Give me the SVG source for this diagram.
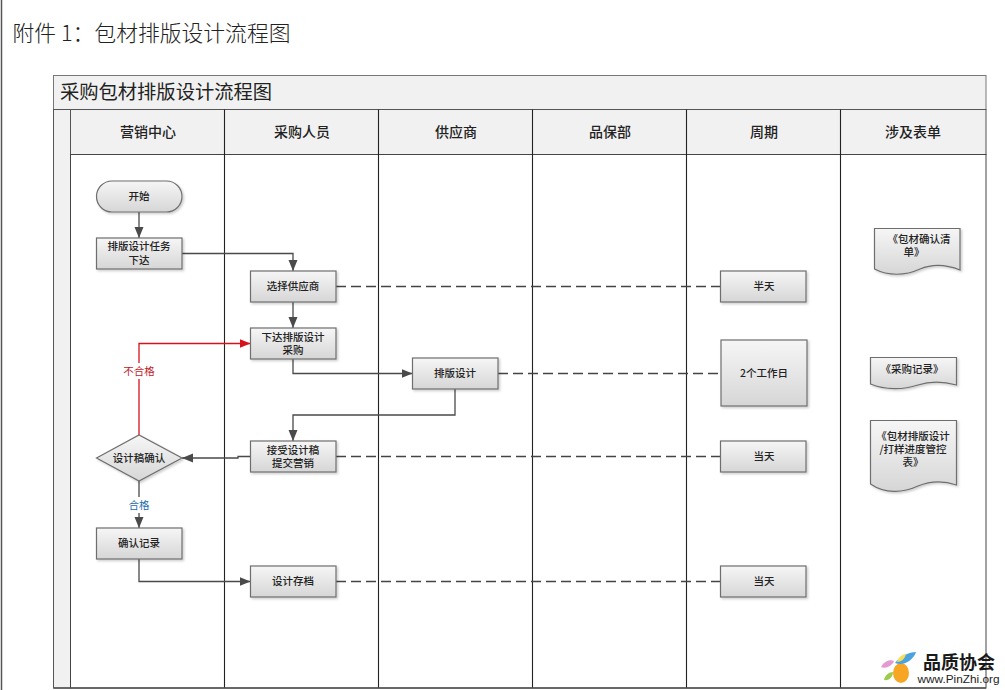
<svg xmlns="http://www.w3.org/2000/svg" width="1005" height="690" viewBox="0 0 1005 690">
<style>
text{font-family:"Noto Sans CJK SC","Liberation Serif",serif;text-anchor:middle;fill:#222}
.n{font-size:10.5px;font-weight:500}
.h{font-size:14px;font-weight:500}
.s{fill:url(#g);stroke:#6e6e6e;stroke-width:1.2;filter:url(#sh)}
.c{fill:none;stroke:#4a4a4a;stroke-width:1.3}
.d{fill:none;stroke:#444;stroke-width:1.3;stroke-dasharray:10 5}
.b{fill:#f1f1f1;stroke:#555;stroke-width:1}
.l{fill:none;stroke:#222;stroke-width:1.1}
</style>
<defs>
<linearGradient id="g" x1="0" y1="0" x2="0" y2="1"><stop offset="0" stop-color="#f6f6f6"/><stop offset="1" stop-color="#d6d6d6"/></linearGradient>
<filter id="sh" x="-10%" y="-10%" width="125%" height="130%"><feDropShadow dx="1.5" dy="1.5" stdDeviation="1" flood-color="#000" flood-opacity=".2"/></filter>
<marker id="a" markerWidth="12" markerHeight="10" refX="11" refY="4.5" orient="auto" markerUnits="userSpaceOnUse"><path d="M0 0L11 4.5L0 9Z" fill="#4a4a4a"/></marker>
<marker id="r" markerWidth="12" markerHeight="10" refX="11" refY="4.5" orient="auto" markerUnits="userSpaceOnUse"><path d="M0 0L11 4.5L0 9Z" fill="#d8121c"/></marker>
</defs>
<rect width="1005" height="690" fill="#fff"/>
<path d="M1.500 0V690" stroke="#555" stroke-width="1.500"/>
<text x="151.500" y="41" style="font-size:21.800px;font-weight:300;fill:#222">附件 1：包材排版设计流程图</text>

<g id="lanes">
<rect class="b" x="53.500" y="75.500" width="932.500" height="34" style="stroke:#777"/>
<rect class="b" x="53.500" y="109.500" width="17" height="578.500"/>
<rect class="b" x="70.500" y="109.500" width="915.500" height="45"/>
<rect x="70.500" y="154.500" width="915.500" height="533.500" fill="#fff" stroke="#444"/>
<path class="l" d="M224.500 109.500V688M378.500 109.500V688M532.500 109.500V688M686.500 109.500V688M840.500 109.500V688"/>
<path d="M53.500 688H986" stroke="#555" stroke-width="1.400"/>
<text x="166" y="99" style="font-size:19.300px;font-weight:400;fill:#222">采购包材排版设计流程图</text>
<text class="h" x="148" y="137">营销中心</text>
<text class="h" x="302" y="137">采购人员</text>
<text class="h" x="456" y="137">供应商</text>
<text class="h" x="610" y="137">品保部</text>
<text class="h" x="764" y="137">周期</text>
<text class="h" x="913" y="137">涉及表单</text>
</g>

<g id="connectors">
<path class="c" marker-end="url(#a)" d="M139 212V238"/>
<path class="c" marker-end="url(#a)" d="M182 253.500H293V271"/>
<path class="c" marker-end="url(#a)" d="M293 302V328"/>
<path class="c" marker-end="url(#a)" d="M293 359V373.500H412.500"/>
<path class="c" marker-end="url(#a)" d="M455 389V415H293V441"/>
<path class="c" marker-end="url(#a)" d="M250.500 456.500H238V458H182"/>
<path class="c" marker-end="url(#a)" d="M139 481V528"/>
<path class="c" marker-end="url(#a)" d="M139 559V581.500H250.500"/>
<path fill="none" stroke="#d8121c" stroke-width="1.300" marker-end="url(#r)" d="M139 435V343.500H250.500"/>
<path class="d" d="M336 286.500H720.500M336 456.500H720.500M336 581.500H720.500M498 373.500H721"/>
<rect x="122" y="363" width="35" height="16" fill="#fff"/>
<text x="139" y="375" style="font-size:10.500px;fill:#c0181f">不合格</text>
<rect x="126" y="497" width="26" height="16" fill="#fff"/>
<text x="139" y="509" style="font-size:10.500px;fill:#1a6ca8">合格</text>
</g>

<g id="start"><rect class="s" x="96.500" y="181" width="85.500" height="31" rx="15.500"/><text class="n" x="139" y="200">开始</text></g>
<g id="task"><rect class="s" x="96.500" y="238" width="85.500" height="31"/><text class="n" x="139" y="250">排版设计任务</text><text class="n" x="139" y="264">下达</text></g>
<g id="select-supplier"><rect class="s" x="250.500" y="271" width="85.500" height="31"/><text class="n" x="293" y="290">选择供应商</text></g>
<g id="issue"><rect class="s" x="250.500" y="328" width="85.500" height="31"/><text class="n" x="293" y="341">下达排版设计</text><text class="n" x="293" y="354">采购</text></g>
<g id="design"><rect class="s" x="412.500" y="358" width="85.500" height="31"/><text class="n" x="455" y="377">排版设计</text></g>
<g id="receive"><rect class="s" x="250.500" y="441" width="85.500" height="31"/><text class="n" x="293" y="454">接受设计稿</text><text class="n" x="293" y="467">提交营销</text></g>
<g id="archive"><rect class="s" x="250.500" y="566" width="85.500" height="31"/><text class="n" x="293" y="585">设计存档</text></g>
<g id="decision"><path class="s" d="M96.500 458L139 435L182 458L139 481Z"/><text class="n" x="139" y="462">设计稿确认</text></g>
<g id="record"><rect class="s" x="96.500" y="528" width="85.500" height="31"/><text class="n" x="139" y="547">确认记录</text></g>

<g id="t1"><rect class="s" x="720.500" y="271" width="85.500" height="31"/><text class="n" x="764" y="290">半天</text></g>
<g id="t2"><rect class="s" x="721" y="340" width="86" height="66"/><text class="n" x="764" y="377">2个工作日</text></g>
<g id="t3"><rect class="s" x="720.500" y="441" width="85.500" height="31"/><text class="n" x="764" y="460">当天</text></g>
<g id="t4"><rect class="s" x="720.500" y="566" width="85.500" height="31"/><text class="n" x="764" y="585">当天</text></g>

<g id="doc1"><path class="s" d="M874.500 228.500H960V270C945 264 932 264 920 269C905 276 888 276 874.500 269Z"/><text class="n" x="919" y="243">《包材确认清</text><text class="n" x="914" y="256">单》</text></g>
<g id="doc2"><path class="s" d="M870.500 357.500H956.500V385C942 381 930 381 918 385C903 390 885 390 870.500 384Z"/><text class="n" x="912" y="373">《采购记录》</text></g>
<g id="doc3"><path class="s" d="M870.500 420.500H956.500V485C942 480 930 481 918 486C903 493 885 494 870.500 484Z"/><text class="n" x="913" y="440">《包材排版设计</text><text class="n" x="913" y="453">/打样进度管控</text><text class="n" x="913" y="466">表》</text></g>

<g id="logo">
<path d="M893 673A8 10 0 1 0 909 673A8 10 0 1 0 893 673Z" fill="#f6a623"/>
<path d="M895 663C900 656 909 652 916 652C914 659 904 667 895 663Z" fill="#4aa3df"/>
<path d="M897 662C898 658 902 654 906 654C905 659 901 662 897 662Z" fill="#f3df5a"/>
<path d="M881 667C884 661 890 659 894 661C892 666 886 669 881 667Z" fill="#e39ad0"/>
<path d="M884 680C885 675 889 672 893 672C893 677 889 681 884 680Z" fill="#9ccc4a"/>
<text x="959" y="669" style="font-size:18px;font-weight:700;fill:#1a1a1a">品质协会</text>
<text x="958.500" y="683" style="font-family:'Liberation Sans',sans-serif;font-size:11.800px;fill:#222">www.PinZhi.org</text>
</g>
</svg>
